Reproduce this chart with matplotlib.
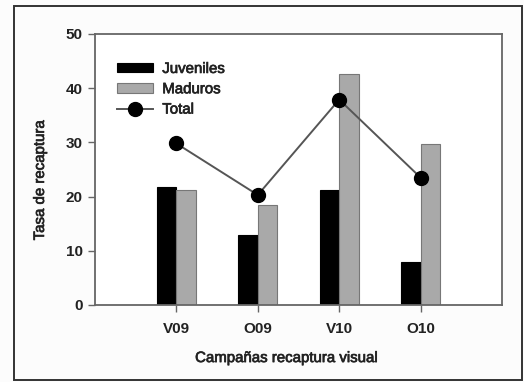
import matplotlib
matplotlib.use("Agg")
import matplotlib.pyplot as plt
import matplotlib.patheffects as pe
from matplotlib.patches import Rectangle
import numpy as np

plt.rcParams['font.family'] = ['Liberation Sans', 'DejaVu Sans']

campaigns = ["V09", "O09", "V10", "O10"]
juveniles = [21.7, 13.0, 21.2, 8.0]
maduros = [21.2, 18.4, 42.7, 29.7]
total = [29.8, 20.3, 37.9, 23.5]

x = np.arange(len(campaigns))
width = 0.24

# slightly heavier strokes for the text
heavy = [pe.withStroke(linewidth=0.5, foreground="#222222")]

fig = plt.figure(figsize=(5.24, 3.82), dpi=100, facecolor="#fcfcfc")
# outer frame around the figure
fig.patches.append(Rectangle((0.026, 0.005), 0.970, 0.979, transform=fig.transFigure,
                             fill=False, edgecolor="#333333", linewidth=1.4))

ax = fig.add_axes([0.1813, 0.2016, 0.7767, 0.7094])
ax.set_facecolor("white")

b1 = ax.bar(x - width / 2, juveniles, width, color="black", edgecolor="black",
            linewidth=0.8, label="Juveniles", zorder=2)
b2 = ax.bar(x + width / 2, maduros, width, color="#a9a9a9", edgecolor="#777777",
            linewidth=0.8, label="Maduros", zorder=2)
l1, = ax.plot(x, total, color="#555555", linewidth=1.4, marker="o", markersize=10,
              markerfacecolor="black", markeredgecolor="black", label="Total", zorder=3)

ax.set_xlim(-1, 4)
ax.set_ylim(0, 50)
ax.set_yticks([0, 10, 20, 30, 40, 50])
ax.set_xticks(x)
ax.set_xticklabels(campaigns)

for s in ax.spines.values():
    s.set_color("#666666")
    s.set_linewidth(1.3)
ax.tick_params(axis="both", direction="out", length=5, width=1.0, color="#666666",
               labelsize=11, labelcolor="#222222", pad=4)
ax.tick_params(axis="x", pad=7)
for lab in ax.get_xticklabels() + ax.get_yticklabels():
    lab.set_fontweight("bold")

ax.set_ylabel("Tasa de recaptura", fontsize=10.8, color="#222222", path_effects=heavy)
ax.set_xlabel("Campañas recaptura visual", fontsize=10.8, color="#222222", path_effects=heavy)
ax.yaxis.set_label_coords(-0.118, 0.46)
ax.xaxis.set_label_coords(0.47, -0.17)

leg = ax.legend([b1, b2, l1], ["Juveniles", "Maduros", "Total"],
                loc="upper left", bbox_to_anchor=(0.040, 0.919), frameon=False,
                fontsize=10.8, handlelength=2.4, handleheight=0.6,
                handletextpad=0.6, labelspacing=0.42, borderaxespad=0)
for t in leg.get_texts():
    t.set_color("#222222")
    t.set_path_effects(heavy)

fig.savefig("out.png", dpi=100, facecolor=fig.get_facecolor())
